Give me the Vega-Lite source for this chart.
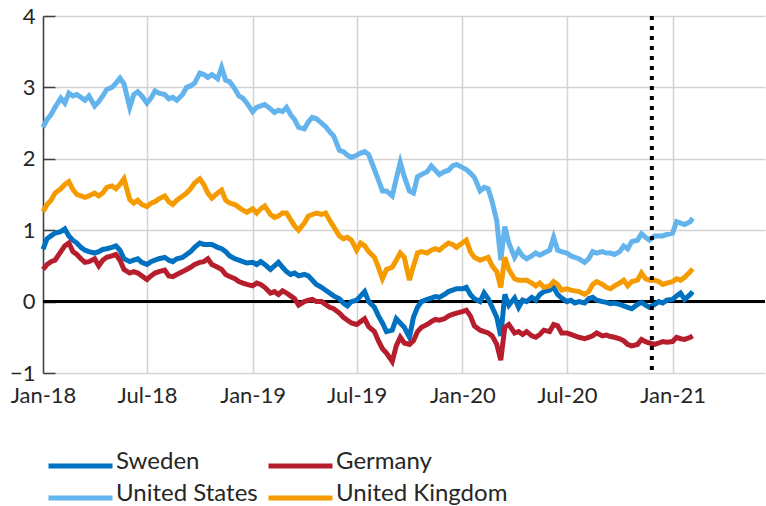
{
  "$schema": "https://vega.github.io/schema/vega-lite/v6.json",
  "autosize": {"type": "none"},
  "padding": {"left": 43, "top": 16, "right": 1, "bottom": 133},
  "width": 722,
  "height": 357,
  "config": {"view": {"stroke": null}, "font": "Lato"},
  "layer": [
    {
      "data": {"values": [{"level": 0}]},
      "mark": {"type": "rule", "color": "#000000", "strokeWidth": 3},
      "encoding": {"y": {"field": "level", "type": "quantitative", "scale": {"domain": [-1, 4], "nice": false, "zero": false}}}
    },
    {
      "data": {"values": [
        {"date":"2018-01-01","Sweden":0.73,"Germany":0.45,"United States":2.44,"United Kingdom":1.26},
        {"date":"2018-01-08","Sweden":0.88,"Germany":0.52,"United States":2.55,"United Kingdom":1.36},
        {"date":"2018-01-15","Sweden":0.92,"Germany":0.56,"United States":2.62,"United Kingdom":1.42},
        {"date":"2018-01-22","Sweden":0.96,"Germany":0.58,"United States":2.72,"United Kingdom":1.52},
        {"date":"2018-02-01","Sweden":0.98,"Germany":0.70,"United States":2.85,"United Kingdom":1.58},
        {"date":"2018-02-08","Sweden":1.02,"Germany":0.78,"United States":2.78,"United Kingdom":1.64},
        {"date":"2018-02-15","Sweden":0.92,"Germany":0.82,"United States":2.92,"United Kingdom":1.68},
        {"date":"2018-02-22","Sweden":0.86,"Germany":0.70,"United States":2.88,"United Kingdom":1.57},
        {"date":"2018-03-01","Sweden":0.82,"Germany":0.66,"United States":2.90,"United Kingdom":1.50},
        {"date":"2018-03-08","Sweden":0.76,"Germany":0.60,"United States":2.86,"United Kingdom":1.48},
        {"date":"2018-03-15","Sweden":0.72,"Germany":0.55,"United States":2.82,"United Kingdom":1.46},
        {"date":"2018-03-22","Sweden":0.70,"Germany":0.56,"United States":2.88,"United Kingdom":1.48},
        {"date":"2018-04-01","Sweden":0.68,"Germany":0.60,"United States":2.74,"United Kingdom":1.52},
        {"date":"2018-04-08","Sweden":0.70,"Germany":0.50,"United States":2.80,"United Kingdom":1.48},
        {"date":"2018-04-15","Sweden":0.73,"Germany":0.58,"United States":2.88,"United Kingdom":1.52},
        {"date":"2018-04-22","Sweden":0.74,"Germany":0.62,"United States":2.97,"United Kingdom":1.60},
        {"date":"2018-05-01","Sweden":0.76,"Germany":0.64,"United States":3.00,"United Kingdom":1.62},
        {"date":"2018-05-08","Sweden":0.78,"Germany":0.66,"United States":3.06,"United Kingdom":1.58},
        {"date":"2018-05-15","Sweden":0.72,"Germany":0.58,"United States":3.13,"United Kingdom":1.64},
        {"date":"2018-05-22","Sweden":0.60,"Germany":0.45,"United States":3.05,"United Kingdom":1.72},
        {"date":"2018-06-01","Sweden":0.56,"Germany":0.40,"United States":2.72,"United Kingdom":1.43},
        {"date":"2018-06-08","Sweden":0.58,"Germany":0.42,"United States":2.90,"United Kingdom":1.38},
        {"date":"2018-06-15","Sweden":0.60,"Germany":0.40,"United States":2.94,"United Kingdom":1.42},
        {"date":"2018-06-22","Sweden":0.55,"Germany":0.36,"United States":2.88,"United Kingdom":1.36},
        {"date":"2018-07-01","Sweden":0.52,"Germany":0.31,"United States":2.78,"United Kingdom":1.33},
        {"date":"2018-07-08","Sweden":0.56,"Germany":0.36,"United States":2.85,"United Kingdom":1.38},
        {"date":"2018-07-15","Sweden":0.58,"Germany":0.40,"United States":2.95,"United Kingdom":1.40},
        {"date":"2018-07-22","Sweden":0.60,"Germany":0.42,"United States":2.92,"United Kingdom":1.44},
        {"date":"2018-08-01","Sweden":0.62,"Germany":0.44,"United States":2.90,"United Kingdom":1.48},
        {"date":"2018-08-08","Sweden":0.58,"Germany":0.36,"United States":2.84,"United Kingdom":1.40},
        {"date":"2018-08-15","Sweden":0.56,"Germany":0.35,"United States":2.86,"United Kingdom":1.36},
        {"date":"2018-08-22","Sweden":0.60,"Germany":0.38,"United States":2.82,"United Kingdom":1.42},
        {"date":"2018-09-01","Sweden":0.62,"Germany":0.42,"United States":2.90,"United Kingdom":1.48},
        {"date":"2018-09-08","Sweden":0.66,"Germany":0.45,"United States":3.00,"United Kingdom":1.52},
        {"date":"2018-09-15","Sweden":0.70,"Germany":0.48,"United States":3.02,"United Kingdom":1.58},
        {"date":"2018-09-22","Sweden":0.76,"Germany":0.52,"United States":3.06,"United Kingdom":1.66},
        {"date":"2018-10-01","Sweden":0.82,"Germany":0.55,"United States":3.20,"United Kingdom":1.72},
        {"date":"2018-10-08","Sweden":0.80,"Germany":0.56,"United States":3.18,"United Kingdom":1.64},
        {"date":"2018-10-15","Sweden":0.80,"Germany":0.60,"United States":3.14,"United Kingdom":1.52},
        {"date":"2018-10-22","Sweden":0.80,"Germany":0.52,"United States":3.18,"United Kingdom":1.45},
        {"date":"2018-11-01","Sweden":0.76,"Germany":0.48,"United States":3.12,"United Kingdom":1.52},
        {"date":"2018-11-08","Sweden":0.74,"Germany":0.45,"United States":3.28,"United Kingdom":1.56},
        {"date":"2018-11-15","Sweden":0.70,"Germany":0.38,"United States":3.10,"United Kingdom":1.42},
        {"date":"2018-11-22","Sweden":0.64,"Germany":0.35,"United States":3.08,"United Kingdom":1.38},
        {"date":"2018-12-01","Sweden":0.60,"Germany":0.32,"United States":2.98,"United Kingdom":1.36},
        {"date":"2018-12-08","Sweden":0.58,"Germany":0.28,"United States":2.88,"United Kingdom":1.32},
        {"date":"2018-12-15","Sweden":0.56,"Germany":0.26,"United States":2.85,"United Kingdom":1.28},
        {"date":"2018-12-22","Sweden":0.54,"Germany":0.24,"United States":2.78,"United Kingdom":1.25},
        {"date":"2019-01-01","Sweden":0.55,"Germany":0.22,"United States":2.66,"United Kingdom":1.30},
        {"date":"2019-01-08","Sweden":0.52,"Germany":0.26,"United States":2.72,"United Kingdom":1.24},
        {"date":"2019-01-15","Sweden":0.56,"Germany":0.24,"United States":2.74,"United Kingdom":1.30},
        {"date":"2019-01-22","Sweden":0.52,"Germany":0.20,"United States":2.76,"United Kingdom":1.34},
        {"date":"2019-02-01","Sweden":0.45,"Germany":0.12,"United States":2.70,"United Kingdom":1.22},
        {"date":"2019-02-08","Sweden":0.50,"Germany":0.14,"United States":2.65,"United Kingdom":1.18},
        {"date":"2019-02-15","Sweden":0.55,"Germany":0.10,"United States":2.68,"United Kingdom":1.20},
        {"date":"2019-02-22","Sweden":0.48,"Germany":0.15,"United States":2.66,"United Kingdom":1.24},
        {"date":"2019-03-01","Sweden":0.42,"Germany":0.12,"United States":2.72,"United Kingdom":1.24},
        {"date":"2019-03-08","Sweden":0.38,"Germany":0.08,"United States":2.62,"United Kingdom":1.15},
        {"date":"2019-03-15","Sweden":0.40,"Germany":0.04,"United States":2.55,"United Kingdom":1.06},
        {"date":"2019-03-22","Sweden":0.36,"Germany":-0.05,"United States":2.44,"United Kingdom":1.00},
        {"date":"2019-04-01","Sweden":0.38,"Germany":0.00,"United States":2.42,"United Kingdom":1.10},
        {"date":"2019-04-08","Sweden":0.36,"Germany":0.02,"United States":2.52,"United Kingdom":1.20},
        {"date":"2019-04-15","Sweden":0.30,"Germany":0.03,"United States":2.58,"United Kingdom":1.22},
        {"date":"2019-04-22","Sweden":0.24,"Germany":0.00,"United States":2.56,"United Kingdom":1.24},
        {"date":"2019-05-01","Sweden":0.20,"Germany":0.00,"United States":2.50,"United Kingdom":1.22},
        {"date":"2019-05-08","Sweden":0.16,"Germany":-0.04,"United States":2.45,"United Kingdom":1.24},
        {"date":"2019-05-15","Sweden":0.12,"Germany":-0.08,"United States":2.38,"United Kingdom":1.14},
        {"date":"2019-05-22","Sweden":0.08,"Germany":-0.10,"United States":2.32,"United Kingdom":1.05},
        {"date":"2019-06-01","Sweden":0.04,"Germany":-0.16,"United States":2.12,"United Kingdom":0.92},
        {"date":"2019-06-08","Sweden":-0.02,"Germany":-0.22,"United States":2.10,"United Kingdom":0.88},
        {"date":"2019-06-15","Sweden":-0.06,"Germany":-0.26,"United States":2.05,"United Kingdom":0.90},
        {"date":"2019-06-22","Sweden":0.00,"Germany":-0.30,"United States":2.02,"United Kingdom":0.86},
        {"date":"2019-07-01","Sweden":0.02,"Germany":-0.32,"United States":2.05,"United Kingdom":0.72},
        {"date":"2019-07-08","Sweden":0.08,"Germany":-0.28,"United States":2.08,"United Kingdom":0.82},
        {"date":"2019-07-15","Sweden":0.14,"Germany":-0.24,"United States":2.10,"United Kingdom":0.78},
        {"date":"2019-07-22","Sweden":0.00,"Germany":-0.35,"United States":2.06,"United Kingdom":0.70},
        {"date":"2019-08-01","Sweden":-0.08,"Germany":-0.42,"United States":1.85,"United Kingdom":0.62},
        {"date":"2019-08-08","Sweden":-0.20,"Germany":-0.55,"United States":1.70,"United Kingdom":0.48},
        {"date":"2019-08-15","Sweden":-0.30,"Germany":-0.66,"United States":1.55,"United Kingdom":0.32},
        {"date":"2019-08-22","Sweden":-0.42,"Germany":-0.72,"United States":1.55,"United Kingdom":0.45},
        {"date":"2019-09-01","Sweden":-0.40,"Germany":-0.84,"United States":1.48,"United Kingdom":0.48},
        {"date":"2019-09-08","Sweden":-0.24,"Germany":-0.62,"United States":1.72,"United Kingdom":0.58},
        {"date":"2019-09-15","Sweden":-0.30,"Germany":-0.50,"United States":1.95,"United Kingdom":0.68},
        {"date":"2019-09-22","Sweden":-0.36,"Germany":-0.58,"United States":1.75,"United Kingdom":0.62},
        {"date":"2019-10-01","Sweden":-0.50,"Germany":-0.60,"United States":1.55,"United Kingdom":0.30},
        {"date":"2019-10-08","Sweden":-0.22,"Germany":-0.55,"United States":1.52,"United Kingdom":0.50},
        {"date":"2019-10-15","Sweden":-0.08,"Germany":-0.42,"United States":1.75,"United Kingdom":0.68},
        {"date":"2019-10-22","Sweden":0.00,"Germany":-0.36,"United States":1.78,"United Kingdom":0.70},
        {"date":"2019-11-01","Sweden":0.03,"Germany":-0.32,"United States":1.82,"United Kingdom":0.68},
        {"date":"2019-11-08","Sweden":0.05,"Germany":-0.28,"United States":1.90,"United Kingdom":0.72},
        {"date":"2019-11-15","Sweden":0.07,"Germany":-0.25,"United States":1.84,"United Kingdom":0.74},
        {"date":"2019-11-22","Sweden":0.06,"Germany":-0.26,"United States":1.78,"United Kingdom":0.72},
        {"date":"2019-12-01","Sweden":0.10,"Germany":-0.24,"United States":1.82,"United Kingdom":0.78},
        {"date":"2019-12-08","Sweden":0.14,"Germany":-0.20,"United States":1.84,"United Kingdom":0.82},
        {"date":"2019-12-15","Sweden":0.16,"Germany":-0.18,"United States":1.90,"United Kingdom":0.80},
        {"date":"2019-12-22","Sweden":0.18,"Germany":-0.16,"United States":1.92,"United Kingdom":0.76},
        {"date":"2020-01-01","Sweden":0.18,"Germany":-0.14,"United States":1.88,"United Kingdom":0.82},
        {"date":"2020-01-08","Sweden":0.20,"Germany":-0.12,"United States":1.85,"United Kingdom":0.86},
        {"date":"2020-01-15","Sweden":0.10,"Germany":-0.20,"United States":1.80,"United Kingdom":0.70},
        {"date":"2020-01-22","Sweden":0.04,"Germany":-0.34,"United States":1.74,"United Kingdom":0.62},
        {"date":"2020-02-01","Sweden":0.00,"Germany":-0.40,"United States":1.55,"United Kingdom":0.58},
        {"date":"2020-02-08","Sweden":0.12,"Germany":-0.42,"United States":1.60,"United Kingdom":0.60},
        {"date":"2020-02-15","Sweden":0.04,"Germany":-0.44,"United States":1.58,"United Kingdom":0.62},
        {"date":"2020-02-22","Sweden":-0.08,"Germany":-0.48,"United States":1.40,"United Kingdom":0.50},
        {"date":"2020-03-01","Sweden":-0.22,"Germany":-0.60,"United States":1.13,"United Kingdom":0.42},
        {"date":"2020-03-08","Sweden":-0.48,"Germany":-0.82,"United States":0.58,"United Kingdom":0.20},
        {"date":"2020-03-15","Sweden":0.10,"Germany":-0.36,"United States":1.05,"United Kingdom":0.62},
        {"date":"2020-03-22","Sweden":-0.05,"Germany":-0.32,"United States":0.82,"United Kingdom":0.45},
        {"date":"2020-04-01","Sweden":0.05,"Germany":-0.44,"United States":0.62,"United Kingdom":0.32},
        {"date":"2020-04-08","Sweden":-0.08,"Germany":-0.42,"United States":0.72,"United Kingdom":0.30},
        {"date":"2020-04-15","Sweden":0.02,"Germany":-0.46,"United States":0.64,"United Kingdom":0.30},
        {"date":"2020-04-22","Sweden":0.00,"Germany":-0.42,"United States":0.60,"United Kingdom":0.30},
        {"date":"2020-05-01","Sweden":0.06,"Germany":-0.48,"United States":0.64,"United Kingdom":0.26},
        {"date":"2020-05-08","Sweden":0.02,"Germany":-0.50,"United States":0.68,"United Kingdom":0.22},
        {"date":"2020-05-15","Sweden":0.10,"Germany":-0.46,"United States":0.65,"United Kingdom":0.26},
        {"date":"2020-05-22","Sweden":0.14,"Germany":-0.40,"United States":0.68,"United Kingdom":0.20},
        {"date":"2020-06-01","Sweden":0.16,"Germany":-0.42,"United States":0.72,"United Kingdom":0.22},
        {"date":"2020-06-08","Sweden":0.20,"Germany":-0.32,"United States":0.90,"United Kingdom":0.28},
        {"date":"2020-06-15","Sweden":0.10,"Germany":-0.34,"United States":0.72,"United Kingdom":0.24},
        {"date":"2020-06-22","Sweden":0.05,"Germany":-0.44,"United States":0.70,"United Kingdom":0.16},
        {"date":"2020-07-01","Sweden":0.00,"Germany":-0.44,"United States":0.68,"United Kingdom":0.18},
        {"date":"2020-07-08","Sweden":0.02,"Germany":-0.46,"United States":0.64,"United Kingdom":0.16},
        {"date":"2020-07-15","Sweden":-0.02,"Germany":-0.48,"United States":0.62,"United Kingdom":0.15},
        {"date":"2020-07-22","Sweden":0.00,"Germany":-0.50,"United States":0.60,"United Kingdom":0.14},
        {"date":"2020-08-01","Sweden":-0.02,"Germany":-0.52,"United States":0.55,"United Kingdom":0.10},
        {"date":"2020-08-08","Sweden":0.04,"Germany":-0.50,"United States":0.60,"United Kingdom":0.14},
        {"date":"2020-08-15","Sweden":0.06,"Germany":-0.48,"United States":0.70,"United Kingdom":0.24},
        {"date":"2020-08-22","Sweden":0.02,"Germany":-0.44,"United States":0.68,"United Kingdom":0.28},
        {"date":"2020-09-01","Sweden":0.00,"Germany":-0.48,"United States":0.70,"United Kingdom":0.24},
        {"date":"2020-09-08","Sweden":-0.01,"Germany":-0.47,"United States":0.68,"United Kingdom":0.20},
        {"date":"2020-09-15","Sweden":-0.03,"Germany":-0.49,"United States":0.68,"United Kingdom":0.18},
        {"date":"2020-09-22","Sweden":-0.02,"Germany":-0.50,"United States":0.66,"United Kingdom":0.22},
        {"date":"2020-10-01","Sweden":-0.04,"Germany":-0.52,"United States":0.70,"United Kingdom":0.26},
        {"date":"2020-10-08","Sweden":-0.06,"Germany":-0.55,"United States":0.78,"United Kingdom":0.30},
        {"date":"2020-10-15","Sweden":-0.08,"Germany":-0.60,"United States":0.74,"United Kingdom":0.22},
        {"date":"2020-10-22","Sweden":-0.10,"Germany":-0.62,"United States":0.84,"United Kingdom":0.28},
        {"date":"2020-11-01","Sweden":-0.04,"Germany":-0.60,"United States":0.86,"United Kingdom":0.30},
        {"date":"2020-11-08","Sweden":-0.01,"Germany":-0.53,"United States":0.95,"United Kingdom":0.40},
        {"date":"2020-11-15","Sweden":-0.05,"Germany":-0.56,"United States":0.90,"United Kingdom":0.32},
        {"date":"2020-11-22","Sweden":-0.08,"Germany":-0.58,"United States":0.86,"United Kingdom":0.30},
        {"date":"2020-12-01","Sweden":-0.04,"Germany":-0.60,"United States":0.92,"United Kingdom":0.30},
        {"date":"2020-12-08","Sweden":0.00,"Germany":-0.58,"United States":0.92,"United Kingdom":0.28},
        {"date":"2020-12-15","Sweden":-0.02,"Germany":-0.56,"United States":0.92,"United Kingdom":0.24},
        {"date":"2020-12-22","Sweden":0.02,"Germany":-0.57,"United States":0.94,"United Kingdom":0.26},
        {"date":"2021-01-01","Sweden":0.03,"Germany":-0.56,"United States":0.96,"United Kingdom":0.28},
        {"date":"2021-01-08","Sweden":0.08,"Germany":-0.50,"United States":1.12,"United Kingdom":0.32},
        {"date":"2021-01-15","Sweden":0.12,"Germany":-0.52,"United States":1.10,"United Kingdom":0.30},
        {"date":"2021-01-22","Sweden":0.03,"Germany":-0.53,"United States":1.08,"United Kingdom":0.34},
        {"date":"2021-02-01","Sweden":0.10,"Germany":-0.50,"United States":1.12,"United Kingdom":0.42},
        {"date":"2021-02-05","Sweden":0.14,"Germany":-0.48,"United States":1.17,"United Kingdom":0.46}
      ]},
      "transform": [{"fold": ["Sweden", "Germany", "United States", "United Kingdom"], "as": ["country", "value"]}],
      "mark": {"type": "line", "strokeWidth": 5, "strokeJoin": "miter"},
      "encoding": {
        "x": {
          "field": "date", "type": "temporal",
          "scale": {"domain": [{"year": 2018, "month": 1, "date": 1}, {"year": 2021, "month": 6, "date": 11}]},
          "axis": {
            "title": null,
            "values": [
              {"year": 2018, "month": 1, "date": 1}, {"year": 2018, "month": 7, "date": 1},
              {"year": 2019, "month": 1, "date": 1}, {"year": 2019, "month": 7, "date": 1},
              {"year": 2020, "month": 1, "date": 1}, {"year": 2020, "month": 7, "date": 1},
              {"year": 2021, "month": 1, "date": 1}
            ],
            "format": "%b-%y",
            "grid": true, "gridColor": "#d4d4d4", "gridWidth": 1.5,
            "ticks": false, "domain": false,
            "labelFont": "Lato", "labelFontSize": 22, "labelColor": "#262626",
            "labelPadding": 12, "labelFlush": false, "labelOverlap": false
          }
        },
        "y": {
          "field": "value", "type": "quantitative",
          "scale": {"domain": [-1, 4], "nice": false, "zero": false},
          "axis": {
            "title": null,
            "values": [-1, 0, 1, 2, 3, 4],
            "format": "d",
            "grid": true, "gridColor": "#d4d4d4", "gridWidth": 1.5,
            "ticks": true, "tickSize": -12, "tickColor": "#404040", "tickWidth": 1.5,
            "domain": true, "domainColor": "#404040", "domainWidth": 1.5,
            "labelFont": "Lato", "labelFontSize": 22, "labelColor": "#262626",
            "labelPadding": 20
          }
        },
        "color": {
          "field": "country", "type": "nominal",
          "scale": {"domain": ["Sweden", "Germany", "United States", "United Kingdom"], "range": ["#0070c0", "#b71e2d", "#63b3ed", "#f59b00"]},
          "legend": {
            "title": null, "orient": "none", "legendX": 25.5, "legendY": 434,
            "direction": "horizontal",
            "columns": 2, "columnPadding": 0, "rowPadding": 6,
            "symbolType": "M-4,0.5H4", "symbolSize": 256, "symbolStrokeWidth": 5,
            "labelFont": "Lato", "labelFontSize": 24, "labelColor": "#262626",
            "labelOffset": 23.5, "labelLimit": 400
          }
        }
      }
    },
    {
      "data": {"values": [{"date": "2020-11-26"}]},
      "mark": {"type": "rule", "color": "#000000", "strokeWidth": 4, "strokeDash": [4, 6]},
      "encoding": {"x": {"field": "date", "type": "temporal"}}
    }
  ]
}
